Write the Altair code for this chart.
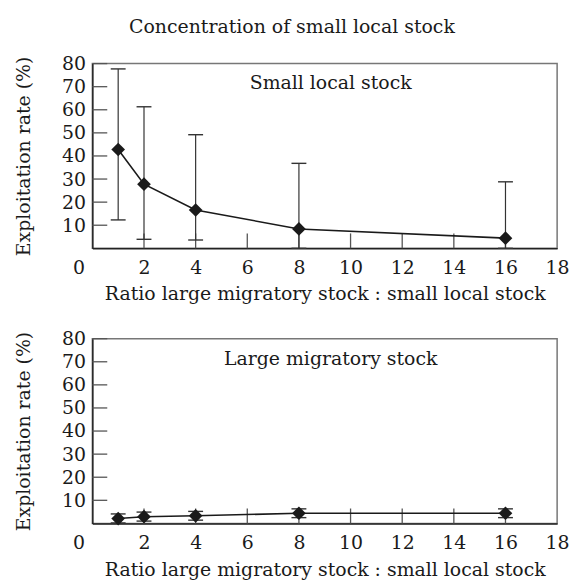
import altair as alt
import pandas as pd

# ---- data ----
RATIO = [1, 2, 4, 8, 16]
SMALL_MEAN = [42.8, 27.8, 16.6, 8.4, 4.4]
SMALL_LO = [12.3, 3.9, 3.6, 0.0, 0.0]
SMALL_HI = [77.7, 61.3, 49.2, 36.8, 28.8]
LARGE_MEAN = [2.1, 2.9, 3.3, 4.4, 4.4]
LARGE_LO = [0.2, 1.0, 1.4, 2.5, 2.5]
LARGE_HI = [4.1, 4.9, 5.2, 6.3, 6.3]
X_LABELS = [0, 2, 4, 6, 8, 10, 12, 14, 16, 18]
X_INNER_TICKS = [2, 4, 6, 8, 10, 12, 14, 16]
Y_LABELS = [10, 20, 30, 40, 50, 60, 70, 80]
TITLE = "Concentration of small local stock"
X_TITLE = "Ratio large migratory stock : small local stock"
Y_TITLE = "Exploitation rate (%)"
PANEL_LABELS = ["Small local stock", "Large migratory stock"]

FONT = "DejaVu Serif"
FS = 19
W, H = 468, 186
INK = "#1a1a1a"


def xenc(field):
    return alt.X(
        f"{field}:Q",
        scale=alt.Scale(domain=[0, 18], nice=False, zero=False),
        axis=alt.Axis(
            values=X_LABELS, ticks=False, grid=False, title=X_TITLE,
            labelPadding=10, titlePadding=8, labelFlush=False,
            labelOffset={"condition": {"test": "datum.value === 0", "value": -14}, "value": 0},
        ),
    )


def yenc(field):
    return alt.Y(
        f"{field}:Q",
        scale=alt.Scale(domain=[0, 80], nice=False),
        axis=alt.Axis(
            values=Y_LABELS, ticks=False, grid=False, title=Y_TITLE,
            labelPadding=7, titlePadding=28, labelFlush=False,
        ),
    )


def panel(mean, lo, hi, label):
    df = pd.DataFrame({"ratio": RATIO, "mean": mean, "lo": lo, "hi": hi})
    base = alt.Chart(df)

    xt = alt.Chart(pd.DataFrame({"t": X_INNER_TICKS})).mark_rule(
        color="#555", strokeWidth=1.3
    ).encode(x=xenc("t"), y=alt.value(H), y2=alt.value(H - 15))
    yt = alt.Chart(pd.DataFrame({"t": Y_LABELS})).mark_rule(
        color="#555", strokeWidth=1.3
    ).encode(y=yenc("t"), x=alt.value(0), x2=alt.value(15))

    bars = base.mark_rule(color="#333", strokeWidth=1.2).encode(
        x=xenc("ratio"), y=yenc("lo"), y2="hi:Q"
    )
    cap_lo = base.mark_rule(color="#333", strokeWidth=1.4, xOffset=-7.5, x2Offset=7.5).encode(
        x=xenc("ratio"), x2="ratio:Q", y=yenc("lo")
    )
    cap_hi = base.mark_rule(color="#333", strokeWidth=1.4, xOffset=-7.5, x2Offset=7.5).encode(
        x=xenc("ratio"), x2="ratio:Q", y=yenc("hi")
    )
    line = base.mark_line(color=INK, strokeWidth=1.6).encode(x=xenc("ratio"), y=yenc("mean"))
    pts = base.mark_point(shape="diamond", filled=True, size=190, color=INK, opacity=1).encode(
        x=xenc("ratio"), y=yenc("mean")
    )
    txt = alt.Chart(pd.DataFrame({"label": [label]})).mark_text(
        font=FONT, fontSize=FS, align="center", baseline="middle", color=INK
    ).encode(text="label:N", x=alt.value(240), y=alt.value(20))

    return alt.layer(xt, yt, bars, cap_lo, cap_hi, line, pts, txt).properties(width=W, height=H)


top = panel(SMALL_MEAN, SMALL_LO, SMALL_HI, PANEL_LABELS[0])
bottom = panel(LARGE_MEAN, LARGE_LO, LARGE_HI, PANEL_LABELS[1])

chart = alt.vconcat(top, bottom, spacing=91, bounds="flush").properties(
    title=alt.TitleParams(TITLE, font=FONT, fontSize=FS, fontWeight="normal",
                          anchor="middle", color=INK, offset=17),
    padding={"left": 14, "top": 16, "right": 5, "bottom": 5},
    background="white",
).configure_view(stroke="#777", strokeWidth=1.5).configure_axis(
    domainColor="#222", domainWidth=1.5,
    labelFont=FONT, labelFontSize=FS, labelColor=INK,
    titleFont=FONT, titleFontSize=FS, titleFontWeight="normal", titleColor=INK,
)

chart.save("out.html", embed_options={"renderer": "svg", "actions": False})
